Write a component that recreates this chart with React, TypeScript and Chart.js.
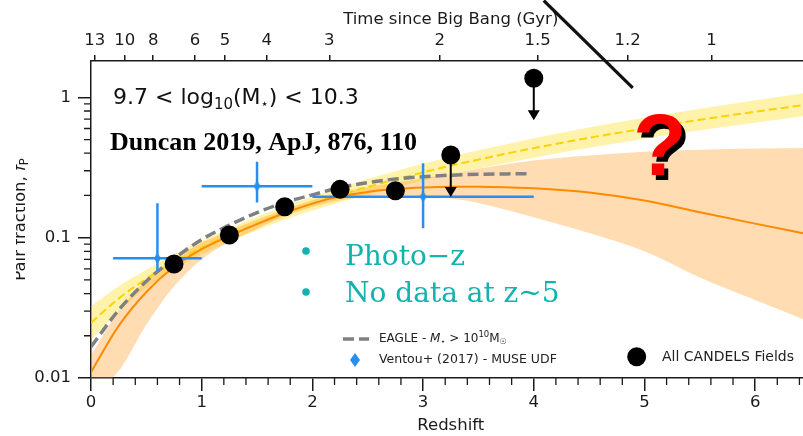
import React, { useEffect, useRef } from 'react';
import { Chart, registerables } from 'chart.js';

Chart.register(...registerables);

// ---------------- data ----------------
const curveZ = [0, 0.25, 0.5, 0.75, 1, 1.25, 1.5, 1.75, 2, 2.25, 2.5, 2.75, 3, 3.25, 3.5, 4, 4.5, 5, 5.5, 6, 6.5];
const orangeFit = [0.011, 0.0235, 0.041, 0.062, 0.083, 0.103, 0.125, 0.15, 0.175, 0.197, 0.212, 0.222, 0.228, 0.231, 0.231, 0.225, 0.21, 0.184, 0.152, 0.126, 0.105];
const orangeLow = [0.0075, 0.0112, 0.024, 0.045, 0.07, 0.093, 0.116, 0.142, 0.166, 0.185, 0.197, 0.201, 0.198, 0.19, 0.177, 0.14, 0.108, 0.08, 0.052, 0.036, 0.025];
const orangeHigh = [0.0145, 0.03, 0.05, 0.07, 0.092, 0.112, 0.134, 0.159, 0.185, 0.21, 0.229, 0.247, 0.265, 0.285, 0.31, 0.355, 0.385, 0.41, 0.424, 0.432, 0.436];
const yellowFit = [0.0248, 0.0368, 0.051, 0.067, 0.085, 0.105, 0.1265, 0.15, 0.175, 0.202, 0.23, 0.26, 0.292, 0.326, 0.36, 0.435, 0.515, 0.6, 0.693, 0.79, 0.895];
const yellowLow = [0.0188, 0.03, 0.044, 0.059, 0.076, 0.094, 0.113, 0.134, 0.156, 0.179, 0.203, 0.228, 0.255, 0.283, 0.311, 0.372, 0.437, 0.507, 0.582, 0.66, 0.745];
const yellowHigh = [0.0325, 0.045, 0.059, 0.076, 0.095, 0.117, 0.141, 0.168, 0.197, 0.228, 0.262, 0.298, 0.336, 0.378, 0.42, 0.512, 0.61, 0.715, 0.83, 0.955, 1.09];

const eagleZ = [0, 0.25, 0.5, 0.75, 1, 1.25, 1.5, 1.75, 2, 2.25, 2.5, 2.75, 3, 3.25, 3.5, 3.75, 3.97];
const eagleFrac = [0.0167, 0.0305, 0.049, 0.071, 0.097, 0.123, 0.151, 0.178, 0.202, 0.228, 0.247, 0.262, 0.272, 0.279, 0.283, 0.285, 0.286];

const candelsZ = [0.75, 1.25, 1.75, 2.25, 2.75];
const candelsFrac = [0.065, 0.1045, 0.166, 0.221, 0.216];
const limitZ = [3.25, 4.0];
const limitFrac = [0.388, 1.37];

const ventouZ = [0.6, 1.5, 3.0];
const ventouFrac = [0.0713, 0.233, 0.196];
const ventouZLow = [0.2, 1.0, 2.0];
const ventouZHigh = [1.0, 2.0, 4.0];
const ventouFracLow = [0.057, 0.178, 0.117];
const ventouFracHigh = [0.176, 0.348, 0.339];

const xTicks = [0, 1, 2, 3, 4, 5, 6];
const yTicks = [0.01, 0.1, 1];
const yTickLabels = ['0.01', '0.1', '1'];
const ageTicks = [13, 10, 8, 6, 5, 4, 3, 2, 1.5, 1.2, 1];
const ageTickLabels = ['13', '10', '8', '6', '5', '4', '3', '2', '1.5', '1.2', '1'];

// annotation slash line (data coordinates)
const slashZ = [4.09, 4.894];
const slashFrac = [4.9, 1.17];

// ---------------- styles ----------------
const X_MIN = 0, X_MAX = 6.5, Y_MIN = 0.01, Y_MAX = 1.817;
const FONT = 'DejaVu Sans';
const BLUE = '#2a8ef0';
const ORANGE = '#ff8a00';
const GOLD = '#ffd200';
const GRAY = '#808080';
const TEAL = '#12b2ae';
const AXIS = '#1a1a1a';

// flat ΛCDM (H0=70, Ωm=0.3) : redshift at a given cosmic age (Gyr) -> top axis tick placement
function redshiftForAge(t: number) {
  const H0 = 70 / 977.8; // 1/Gyr
  const OL = 0.7, OM = 0.3;
  const k = 1.5 * H0 * Math.sqrt(OL);
  const s = Math.sinh(t * k) / Math.sqrt(OL / OM);
  return Math.pow(s, -2 / 3) - 1;
}

function makeDiamond(w: number, h: number, color: string) {
  const c = document.createElement('canvas');
  c.width = w; c.height = h;
  const g = c.getContext('2d')!;
  g.fillStyle = color;
  g.beginPath();
  g.moveTo(w / 2, 0); g.lineTo(w, h / 2); g.lineTo(w / 2, h); g.lineTo(0, h / 2);
  g.closePath(); g.fill();
  return c;
}

type Run = { t: string; font: string; dy?: number };
function drawRuns(ctx: CanvasRenderingContext2D, x: number, y: number, runs: Run[]) {
  let cx = x;
  for (const r of runs) {
    ctx.font = r.font;
    ctx.fillText(r.t, cx, y + (r.dy || 0));
    cx += ctx.measureText(r.t).width;
  }
}

const pts = (xs: number[], ys: number[]) => xs.map((x, i) => ({ x, y: ys[i] }));

const VENTOU_IDX = 2;
const LIMIT_IDX = 1;

export default function App() {
  const ref = useRef<HTMLCanvasElement>(null);

  useEffect(() => {
    const canvas = ref.current!;
    const diamond = makeDiamond(7, 11, BLUE);
    const legendDiamond = makeDiamond(10, 14, BLUE);

    const extras = {
      id: 'extras',
      beforeDatasetDraw(chart: any, args: any) {
        const ctx = chart.ctx as CanvasRenderingContext2D;
        const xs = chart.scales.x, ys = chart.scales.y;
        if (args.index === VENTOU_IDX) {
          ctx.save();
          ctx.strokeStyle = BLUE;
          ctx.lineWidth = 2.5;
          for (let i = 0; i < ventouZ.length; i++) {
            const px = xs.getPixelForValue(ventouZ[i]);
            const py = ys.getPixelForValue(ventouFrac[i]);
            ctx.beginPath();
            ctx.moveTo(xs.getPixelForValue(ventouZLow[i]), py);
            ctx.lineTo(xs.getPixelForValue(ventouZHigh[i]), py);
            ctx.moveTo(px, ys.getPixelForValue(ventouFracLow[i]));
            ctx.lineTo(px, ys.getPixelForValue(ventouFracHigh[i]));
            ctx.stroke();
          }
          ctx.restore();
        }
        if (args.index === LIMIT_IDX) {
          ctx.save();
          ctx.strokeStyle = '#000';
          ctx.fillStyle = '#000';
          ctx.lineWidth = 2;
          for (let i = 0; i < limitZ.length; i++) {
            const px = xs.getPixelForValue(limitZ[i]);
            const py = ys.getPixelForValue(limitFrac[i]);
            ctx.beginPath();
            ctx.moveTo(px, py);
            ctx.lineTo(px, py + 34);
            ctx.stroke();
            ctx.beginPath();
            ctx.moveTo(px - 6, py + 32);
            ctx.lineTo(px + 6, py + 32);
            ctx.lineTo(px, py + 42);
            ctx.closePath();
            ctx.fill();
          }
          ctx.restore();
        }
      },
      afterDraw(chart: any) {
        const ctx = chart.ctx as CanvasRenderingContext2D;
        const xs = chart.scales.x, ys = chart.scales.y;
        const { left, top, bottom } = chart.chartArea;
        ctx.save();
        // minor ticks
        ctx.strokeStyle = AXIS;
        ctx.lineWidth = 1.3;
        ctx.beginPath();
        for (let i = 1; i < 33; i++) {
          if (i % 5 === 0) continue;
          const px = xs.getPixelForValue(i * 0.2);
          ctx.moveTo(px, bottom);
          ctx.lineTo(px, bottom + 7);
        }
        for (const d of [-2, -1, 0]) {
          for (let k = 2; k <= 9; k++) {
            const v = k * Math.pow(10, d);
            if (v > Y_MAX) break;
            const py = ys.getPixelForValue(v);
            ctx.moveTo(left - 7, py);
            ctx.lineTo(left, py);
          }
        }
        ctx.stroke();

        // y title (cropped at the left like the reference)
        ctx.save();
        ctx.beginPath();
        ctx.rect(16, 0, 200, 436);
        ctx.clip();
        ctx.translate(25, (top + bottom) / 2);
        ctx.rotate(-Math.PI / 2);
        ctx.fillStyle = AXIS;
        ctx.textBaseline = 'alphabetic';
        const t1 = 'Pair fraction, ';
        ctx.font = `16.5px ${FONT}`;
        const w1 = ctx.measureText(t1).width;
        ctx.font = `italic 16.5px ${FONT}`;
        const w2 = ctx.measureText('f').width;
        ctx.font = `11.5px ${FONT}`;
        const w3 = ctx.measureText('P').width;
        drawRuns(ctx, -(w1 + w2 + w3) / 2, 0, [
          { t: t1, font: `16.5px ${FONT}` },
          { t: 'f', font: `italic 16.5px ${FONT}` },
          { t: 'P', font: `11.5px ${FONT}`, dy: 3 },
        ]);
        ctx.restore();

        // mass range label
        ctx.fillStyle = '#111';
        ctx.textBaseline = 'alphabetic';
        drawRuns(ctx, 113, 103.5, [
          { t: '9.7 < log', font: `22px ${FONT}` },
          { t: '10', font: `15px ${FONT}`, dy: 5 },
          { t: '(M', font: `22px ${FONT}` },
          { t: '⋆', font: `13px ${FONT}`, dy: 4 },
          { t: ') < 10.3', font: `22px ${FONT}` },
        ]);

        // citation
        ctx.fillStyle = '#000';
        ctx.font = `bold 26px "Liberation Serif"`;
        ctx.fillText('Duncan 2019, ApJ, 876, 110', 110, 149.5);

        // teal bullets
        ctx.fillStyle = TEAL;
        ctx.beginPath();
        ctx.arc(306, 251, 3.8, 0, Math.PI * 2);
        ctx.arc(306, 292, 3.8, 0, Math.PI * 2);
        ctx.fill();
        ctx.font = `28px "DejaVu Serif"`;
        ctx.fillText('Photo−z', 345, 264.5);
        ctx.fillText('No data at z~5', 345, 301.5);

        // slash line annotation
        ctx.strokeStyle = '#111';
        ctx.lineWidth = 3.2;
        ctx.beginPath();
        ctx.moveTo(xs.getPixelForValue(slashZ[0]), ys.getPixelForValue(slashFrac[0]));
        ctx.lineTo(xs.getPixelForValue(slashZ[1]), ys.getPixelForValue(slashFrac[1]));
        ctx.stroke();

        // red question mark with shadow
        ctx.font = `bold 88px "Liberation Sans"`;
        ctx.textAlign = 'center';
        ctx.fillStyle = '#000';
        ctx.fillText('?', 664, 180);
        ctx.fillStyle = '#ff0000';
        ctx.fillText('?', 660, 175);
        ctx.textAlign = 'left';

        // legend
        ctx.strokeStyle = GRAY;
        ctx.lineWidth = 3.5;
        ctx.setLineDash([11, 5]);
        ctx.beginPath();
        ctx.moveTo(343, 339);
        ctx.lineTo(369, 339);
        ctx.stroke();
        ctx.setLineDash([]);
        ctx.fillStyle = '#222';
        ctx.textBaseline = 'middle';
        drawRuns(ctx, 379, 339, [
          { t: 'EAGLE - ', font: `12px ${FONT}` },
          { t: 'M', font: `italic 12px ${FONT}` },
          { t: '⋆', font: `8px ${FONT}`, dy: 3 },
          { t: ' > 10', font: `12px ${FONT}` },
          { t: '10', font: `8.5px ${FONT}`, dy: -4 },
          { t: 'M', font: `12px ${FONT}` },
          { t: '☉', font: `8px ${FONT}`, dy: 3 },
        ]);
        ctx.drawImage(legendDiamond, 355 - 5, 360 - 7);
        ctx.font = `12.5px ${FONT}`;
        ctx.fillText('Ventou+ (2017) - MUSE UDF', 379, 360);
        ctx.fillStyle = '#000';
        ctx.beginPath();
        ctx.arc(636.7, 356.7, 9.5, 0, Math.PI * 2);
        ctx.fill();
        ctx.fillStyle = '#222';
        ctx.font = `14px ${FONT}`;
        ctx.fillText('All CANDELS Fields', 662, 357);
        ctx.restore();
      },
    };

    const axisFont = { family: FONT, size: 16.5 };

    const chart = new Chart(canvas, {
      type: 'line',
      data: {
        datasets: [
          {
            label: 'All CANDELS Fields', data: pts(candelsZ, candelsFrac), showLine: false,
            pointRadius: 9.5, pointBackgroundColor: '#000', pointBorderWidth: 0, order: 0,
          },
          {
            label: 'upper limits', data: pts(limitZ, limitFrac), showLine: false,
            pointRadius: 9.5, pointBackgroundColor: '#000', pointBorderWidth: 0, order: 0,
          },
          {
            label: 'Ventou+ (2017) - MUSE UDF', data: pts(ventouZ, ventouFrac), showLine: false,
            pointStyle: diamond as any, pointRadius: 6, order: 1,
          },
          {
            label: 'EAGLE', data: pts(eagleZ, eagleFrac), borderColor: GRAY, borderWidth: 3.5,
            borderDash: [11, 5], pointRadius: 0, cubicInterpolationMode: 'monotone', order: 2,
          },
          {
            label: 'fit', data: pts(curveZ, orangeFit), borderColor: ORANGE, borderWidth: 2,
            pointRadius: 0, cubicInterpolationMode: 'monotone', order: 3,
          },
          {
            label: 'power law', data: pts(curveZ, yellowFit), borderColor: GOLD, borderWidth: 2,
            borderDash: [8, 4], pointRadius: 0, cubicInterpolationMode: 'monotone', order: 4,
          },
          {
            label: 'fit low', data: pts(curveZ, orangeLow), borderWidth: 0, pointRadius: 0,
            cubicInterpolationMode: 'monotone', fill: false, order: 5,
          },
          {
            label: 'fit high', data: pts(curveZ, orangeHigh), borderWidth: 0, pointRadius: 0,
            cubicInterpolationMode: 'monotone', fill: { target: 6 }, backgroundColor: 'rgba(255,140,0,0.3)', order: 5,
          },
          {
            label: 'pl low', data: pts(curveZ, yellowLow), borderWidth: 0, pointRadius: 0,
            cubicInterpolationMode: 'monotone', fill: false, order: 6,
          },
          {
            label: 'pl high', data: pts(curveZ, yellowHigh), borderWidth: 0, pointRadius: 0,
            cubicInterpolationMode: 'monotone', fill: { target: 8 }, backgroundColor: 'rgba(255,215,0,0.33)', order: 6,
          },
        ] as any,
      },
      options: {
        responsive: false,
        animation: false,
        events: [],
        layout: { padding: { left: 0, right: 9, top: 0, bottom: 0 } },
        plugins: { legend: { display: false }, tooltip: { enabled: false } },
        scales: {
          x: {
            type: 'linear', position: 'bottom', min: X_MIN, max: X_MAX,
            afterBuildTicks: (s: any) => { s.ticks = xTicks.map((v) => ({ value: v })); },
            afterFit: (s: any) => { s.height = 58; },
            ticks: { font: axisFont, color: AXIS, padding: 2, maxRotation: 0, autoSkip: false, callback: (v: any) => String(v) },
            grid: { drawOnChartArea: false, drawTicks: true, tickLength: 13, color: AXIS, lineWidth: 1.5 },
            border: { display: true, color: AXIS, width: 1.5 },
            title: { display: true, text: 'Redshift', font: axisFont, color: AXIS, padding: { top: 0, bottom: 0 } },
          },
          x2: {
            type: 'linear', position: 'top', min: X_MIN, max: X_MAX,
            afterBuildTicks: (s: any) => { s.ticks = ageTicks.map((a) => ({ value: redshiftForAge(a) })); },
            afterFit: (s: any) => { s.height = 61; },
            ticks: { font: axisFont, color: AXIS, padding: 4, maxRotation: 0, autoSkip: false, callback: (_v: any, i: number) => ageTickLabels[i] },
            grid: { drawOnChartArea: false, drawTicks: true, tickLength: 6, color: AXIS, lineWidth: 1.5 },
            border: { display: true, color: AXIS, width: 1.5 },
            title: { display: true, text: 'Time since Big Bang (Gyr)', font: axisFont, color: AXIS, padding: { top: 10, bottom: 0 } },
          },
          y: {
            type: 'logarithmic', position: 'left', min: Y_MIN, max: Y_MAX,
            afterBuildTicks: (s: any) => { s.ticks = yTicks.map((v) => ({ value: v, major: true })); },
            afterFit: (s: any) => { s.width = 91; },
            ticks: { font: axisFont, color: AXIS, padding: 7, autoSkip: false, callback: (_v: any, i: number) => yTickLabels[i] },
            grid: { drawOnChartArea: false, drawTicks: true, tickLength: 13, color: AXIS, lineWidth: 1.5 },
            border: { display: true, color: AXIS, width: 1.5 },
          },
        },
      } as any,
      plugins: [extras as any],
    });
    return () => chart.destroy();
  }, []);

  return (
    <div style={{ position: 'fixed', left: 0, top: 0, width: 803, height: 436, overflow: 'hidden', background: '#fff' }}>
      <canvas ref={ref} width={820} height={436} style={{ display: 'block' }} />
    </div>
  );
}
